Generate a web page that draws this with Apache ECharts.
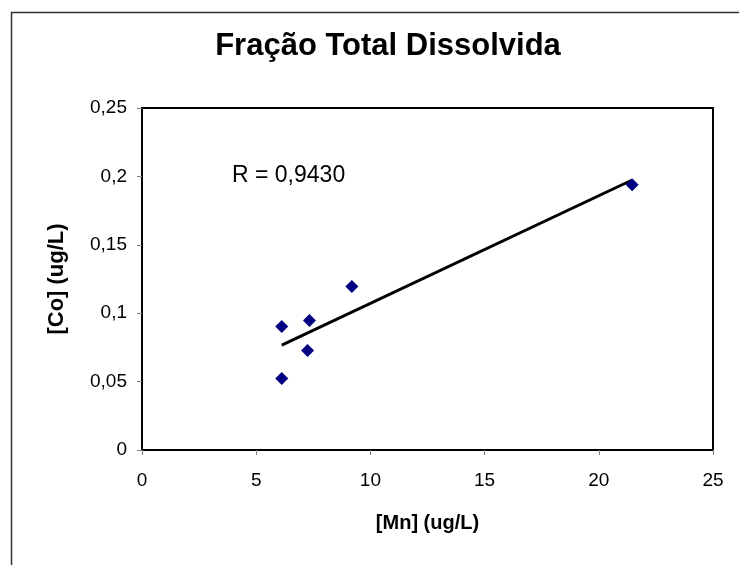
<!DOCTYPE html>
<html><head><meta charset="utf-8">
<script src="https://cdn.jsdelivr.net/npm/echarts@6/dist/echarts.min.js"></script>
<style>html,body{margin:0;padding:0;background:#fff}#c{width:739px;height:565px}</style>
</head><body><div id="c"></div>
<script>
const mn = [6.12, 6.12, 7.33, 7.25, 9.19, 21.46];
const co = [0.0902, 0.0522, 0.0946, 0.0727, 0.1195, 0.1939];
const titleText = 'Fração Total Dissolvida';
const xName = '[Mn] (ug/L)';
const yName = '[Co] (ug/L)';
const rLabel = 'R = 0,9430';

const pts = mn.map((x, i) => [x, co[i]]);
const n = mn.length;
const mx = mn.reduce((a, b) => a + b, 0) / n;
const my = co.reduce((a, b) => a + b, 0) / n;
let sxy = 0, sxx = 0;
for (let i = 0; i < n; i++) { sxy += (mn[i] - mx) * (co[i] - my); sxx += (mn[i] - mx) ** 2; }
const slope = sxy / sxx, icpt = my - slope * mx;
const xmin = Math.min(...mn), xmax = Math.max(...mn);
const trend = [[xmin, icpt + slope * xmin], [xmax, icpt + slope * xmax]];

const fmt = v => String(+v.toFixed(2)).replace('.', ',');
const chart = echarts.init(document.getElementById('c'), null, {renderer: 'canvas'});
const font = 'Arial, "Liberation Sans", sans-serif';
chart.setOption({
  animation: false,
  textStyle: {fontFamily: font},
  title: {text: titleText, left: 383, textAlign: 'center', top: 26,
    textStyle: {fontSize: 31, fontWeight: 'bold', color: '#000', fontFamily: font}},
  grid: {left: 142, top: 108, right: 26, bottom: 115, show: true, borderColor: '#000', borderWidth: 2},
  xAxis: {type: 'value', min: 0, max: 25, interval: 5,
    name: xName, nameLocation: 'middle', nameGap: 63,
    nameTextStyle: {fontSize: 20, fontWeight: 'bold', color: '#000', fontFamily: font},
    axisLine: {show: true, lineStyle: {color: '#000', width: 2}},
    axisTick: {show: true, length: 5, lineStyle: {color: '#808080'}},
    axisLabel: {fontSize: 19, color: '#000', margin: 21, fontFamily: font},
    splitLine: {show: false}},
  yAxis: {type: 'value', min: 0, max: 0.25, interval: 0.05,
    name: yName, nameLocation: 'middle', nameGap: 74, nameRotate: 90,
    nameTextStyle: {fontSize: 22, fontWeight: 'bold', color: '#000', fontFamily: font},
    axisLine: {show: true, lineStyle: {color: '#000', width: 2}},
    axisTick: {show: true, length: 5, lineStyle: {color: '#808080'}},
    axisLabel: {fontSize: 19, color: '#000', margin: 15, formatter: fmt, fontFamily: font},
    splitLine: {show: false}},
  graphic: [
    {type: 'rect', shape: {x: 11.5, y: 12.5, width: 760, height: 600}, style: {fill: null, stroke: '#333', lineWidth: 1.5}, silent: true, z: -1},
    {type: 'text', left: 232, top: 164, style: {text: rLabel, fontSize: 23, fill: '#000', fontFamily: font}}
  ],
  series: [
    {type: 'line', data: trend, showSymbol: false, symbol: 'none', lineStyle: {color: '#000', width: 3}, z: 2},
    {type: 'scatter', data: pts, symbol: 'diamond', symbolSize: [13, 13], itemStyle: {color: '#000080', opacity: 1}, z: 3}
  ]
});
</script></body></html>
